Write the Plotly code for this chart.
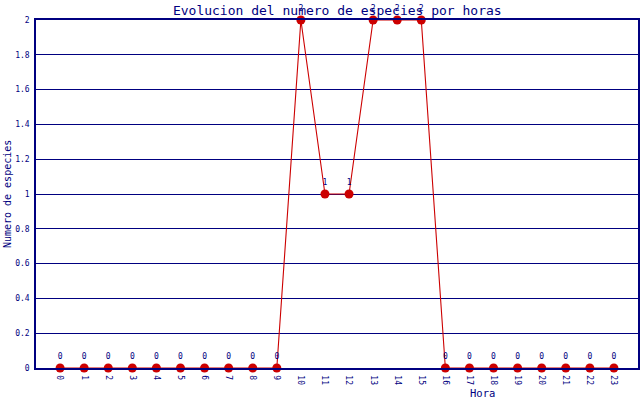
import plotly.graph_objects as go

# hourly species counts
hours = list(range(24))
hour_labels = [str(h) for h in hours]
species_count = [0, 0, 0, 0, 0, 0, 0, 0, 0, 0, 2, 1, 1, 2, 2, 2, 0, 0, 0, 0, 0, 0, 0, 0]

NAVY = "#000080"
RED = "#cc0000"
FONT = "DejaVu Sans Mono"

fig = go.Figure()
fig.add_trace(
    go.Scatter(
        x=hours,
        y=species_count,
        mode="lines+markers+text",
        text=[str(v) for v in species_count],
        textposition="top center",
        textfont=dict(family=FONT, size=8, color=NAVY),
        line=dict(color=RED, width=1.1),
        marker=dict(color=RED, size=9),
        cliponaxis=False,
        hoverinfo="skip",
    )
)

fig.update_xaxes(
    range=[-1, 24],
    tickvals=hours,
    ticktext=hour_labels,
    tickangle=90,
    tickfont=dict(family=FONT, size=8, color=NAVY),
    showgrid=False,
    zeroline=False,
    showline=True,
    linecolor=NAVY,
    linewidth=1.5,
    mirror=True,
    ticks="outside",
    ticklen=4,
    tickcolor="rgba(0,0,0,0)",
    automargin=False,
)
fig.update_yaxes(
    range=[0, 2],
    dtick=0.2,
    tickfont=dict(family=FONT, size=8, color=NAVY),
    showgrid=True,
    gridcolor=NAVY,
    gridwidth=1.2,
    zeroline=False,
    showline=True,
    linecolor=NAVY,
    linewidth=1.5,
    mirror=True,
    ticks="outside",
    ticklen=3,
    tickcolor="rgba(0,0,0,0)",
    automargin=False,
)

fig.update_layout(
    width=640,
    height=400,
    margin=dict(l=36, r=2, t=20, b=32, autoexpand=False),
    paper_bgcolor="white",
    plot_bgcolor="white",
    showlegend=False,
    title=dict(
        text="Evolucion del numero de especies por horas",
        x=0.527,
        xanchor="center",
        y=0.975,
        yanchor="middle",
        font=dict(family=FONT, size=13, color=NAVY),
    ),
    annotations=[
        dict(
            text="Hora",
            x=0.741,
            y=-0.072,
            xref="paper",
            yref="paper",
            xanchor="center",
            yanchor="middle",
            showarrow=False,
            font=dict(family=FONT, size=10.5, color=NAVY),
        ),
        dict(
            text="Numero de especies",
            x=-0.048,
            y=0.5,
            xref="paper",
            yref="paper",
            xanchor="center",
            yanchor="middle",
            textangle=-90,
            showarrow=False,
            font=dict(family=FONT, size=10, color=NAVY),
        ),
    ],
)

# the page body has a default margin; drop it so the figure sits at 0,0
fig.write_html(
    "out.html",
    config={"displayModeBar": False},
    post_script="document.body.style.margin='0';",
)
